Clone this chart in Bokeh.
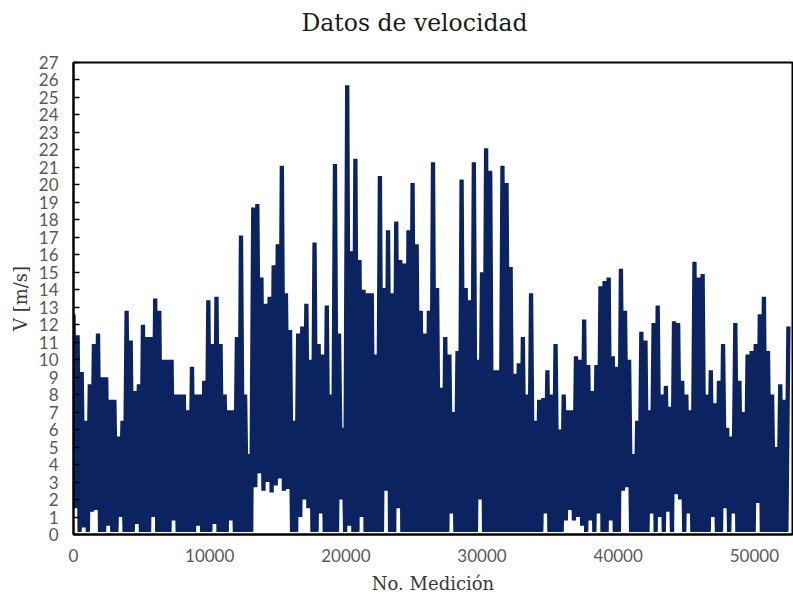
from bokeh.plotting import figure
from bokeh.models import FixedTicker, Range1d, Title
from bokeh.embed import file_html
from bokeh.resources import INLINE

titulo = "Datos de velocidad"
etiqueta_x = "No. Medición"
etiqueta_y = "V [m/s]"
ticks_x = [0, 10000, 20000, 30000, 40000, 50000]
ticks_y = list(range(0, 28))
paso = 150  # mediciones entre valores leídos

# máximos locales (uno cada 2*paso mediciones)
picos = [
    12.6, 11.4, 9.3, 6.5, 8.6, 10.9, 11.5, 9.0, 9.0, 7.7,
    7.7, 5.6, 6.5, 12.8, 11.1, 8.2, 8.6, 12.0, 11.3, 11.3,
    13.5, 12.8, 10.0, 10.0, 10.0, 8.0, 8.0, 8.0, 7.1, 9.6,
    8.0, 8.0, 8.8, 13.4, 10.9, 13.6, 10.9, 8.0, 7.1, 7.1,
    11.3, 17.1, 8.0, 4.6, 18.7, 18.9, 14.7, 13.2, 13.6, 15.4,
    16.6, 21.1, 13.8, 11.7, 6.5, 11.5, 11.9, 13.2, 10.0, 16.7,
    10.9, 10.3, 13.1, 8.0, 21.2, 11.5, 6.1, 25.7, 16.2, 21.5,
    15.7, 14.0, 13.8, 13.8, 10.3, 20.5, 14.1, 17.4, 13.8, 17.9,
    15.7, 15.5, 17.4, 20.1, 16.6, 12.8, 11.5, 12.8, 21.3, 14.1,
    8.4, 11.3, 10.3, 7.0, 10.5, 20.3, 14.1, 13.4, 21.3, 10.0,
    15.0, 22.1, 20.8, 9.4, 9.4, 21.1, 20.1, 15.3, 9.2, 9.8,
    11.3, 8.0, 13.8, 6.5, 7.7, 7.8, 9.4, 8.0, 10.9, 6.0,
    8.0, 7.1, 7.1, 10.2, 10.0, 12.3, 9.7, 8.2, 9.7, 14.2,
    14.5, 14.7, 10.2, 9.6, 15.2, 12.8, 10.0, 4.6, 6.5, 11.6,
    11.1, 7.1, 12.1, 13.1, 8.0, 8.5, 7.3, 12.2, 12.1, 8.8,
    8.0, 7.1, 15.6, 14.7, 14.9, 8.0, 9.4, 7.5, 8.8, 10.9,
    6.1, 5.6, 12.1, 8.8, 7.0, 10.3, 10.5, 10.9, 12.6, 13.6,
    10.5, 8.0, 5.0, 8.6, 7.7, 11.9,
]

# mínimos locales (entre cada par de máximos)
valles = [
    1.5, 0.15, 0.4, 0.15, 1.3, 1.4, 0.15, 0.15, 0.5, 0.15,
    0.15, 1.0, 0.15, 0.15, 0.15, 0.6, 0.15, 0.15, 0.15, 1.0,
    0.15, 0.15, 0.15, 0.15, 0.8, 0.15, 0.15, 0.15, 0.15, 0.15,
    0.5, 0.15, 0.15, 0.15, 0.6, 0.15, 0.15, 0.15, 0.8, 0.15,
    0.15, 0.15, 0.15, 0.15, 2.7, 3.5, 2.5, 3.0, 2.4, 2.8,
    3.2, 2.5, 2.6, 0.15, 0.15, 1.0, 2.0, 1.5, 0.15, 0.15,
    1.2, 0.15, 0.15, 0.15, 0.15, 2.0, 0.15, 0.5, 0.15, 0.15,
    1.0, 0.15, 0.15, 0.15, 0.15, 0.15, 2.5, 0.15, 0.15, 1.5,
    0.15, 0.15, 0.15, 0.15, 0.15, 0.15, 0.15, 0.15, 0.15, 0.15,
    0.15, 0.15, 1.2, 0.15, 0.15, 0.15, 0.15, 0.15, 0.15, 2.0,
    0.15, 0.15, 0.15, 0.15, 0.15, 0.15, 0.15, 0.15, 0.15, 0.15,
    0.15, 0.15, 0.15, 0.15, 0.15, 1.2, 0.15, 0.15, 0.15, 0.15,
    0.8, 1.4, 0.8, 1.0, 0.5, 0.15, 0.8, 0.15, 1.2, 0.15,
    0.15, 0.8, 0.15, 0.15, 2.5, 2.7, 0.15, 0.15, 0.15, 0.15,
    0.15, 1.2, 0.15, 1.0, 0.15, 1.3, 0.15, 2.3, 2.0, 0.15,
    1.2, 0.15, 0.15, 0.15, 0.15, 0.15, 1.0, 0.15, 0.15, 1.5,
    0.15, 1.2, 0.15, 0.15, 0.15, 0.15, 0.15, 1.8, 0.15, 0.15,
    0.15, 0.15, 0.15, 0.15, 0.15,
]

velocidad = []
for i, v in enumerate(picos):
    velocidad.append(v)
    if i < len(valles):
        velocidad.append(valles[i])
medicion = [i * paso for i in range(len(velocidad))]

p = figure(width=793, height=596, output_backend="svg", toolbar_location=None,
           x_range=Range1d(0, 52800), y_range=Range1d(0, 27),
           min_border_left=73, min_border_right=1, min_border_top=62,
           min_border_bottom=62, title=titulo)

p.title.text_font = "DejaVu Serif"
p.title.text_font_size = "23.5px"
p.title.text_font_style = "normal"
p.title.text_color = "#1a1a1a"
p.title.align = "left"
p.title.offset = 228
p.title.standoff = 0

# espacio vacío entre el título y el marco
p.add_layout(Title(text=" ", text_font_size="10px", standoff=13), "above")

p.xgrid.visible = False
p.ygrid.visible = False
p.outline_line_color = "black"
p.outline_line_width = 2
p.outline_line_alpha = 1
p.background_fill_color = "white"
p.border_fill_color = "white"

p.line(medicion, velocidad, line_color="#0B2361", line_width=4.3, line_join="bevel")

for ax in (p.xaxis[0], p.yaxis[0]):
    ax.axis_line_color = "black"
    ax.axis_line_width = 2
    ax.major_label_text_font = "Lato"
    ax.major_label_text_font_size = "17px"
    ax.major_label_text_color = "#595959"
    ax.axis_label_text_font = "DejaVu Serif"
    ax.axis_label_text_font_size = "18px"
    ax.axis_label_text_font_style = "normal"
    ax.axis_label_text_color = "#3a3a3a"
    ax.minor_tick_line_color = None

xa = p.xaxis[0]
xa.ticker = FixedTicker(ticks=ticks_x)
xa.major_tick_in = 0
xa.major_tick_out = 0
xa.major_label_standoff = 14
xa.axis_label = etiqueta_x
xa.axis_label_standoff = 8

ya = p.yaxis[0]
ya.ticker = FixedTicker(ticks=ticks_y)
ya.major_tick_in = 6
ya.major_tick_out = 0
ya.major_tick_line_color = "black"
ya.major_tick_line_width = 1.5
ya.major_label_standoff = 15
ya.axis_label = etiqueta_y
ya.axis_label_standoff = 5

open("out.html", "w").write(file_html(p, INLINE))
